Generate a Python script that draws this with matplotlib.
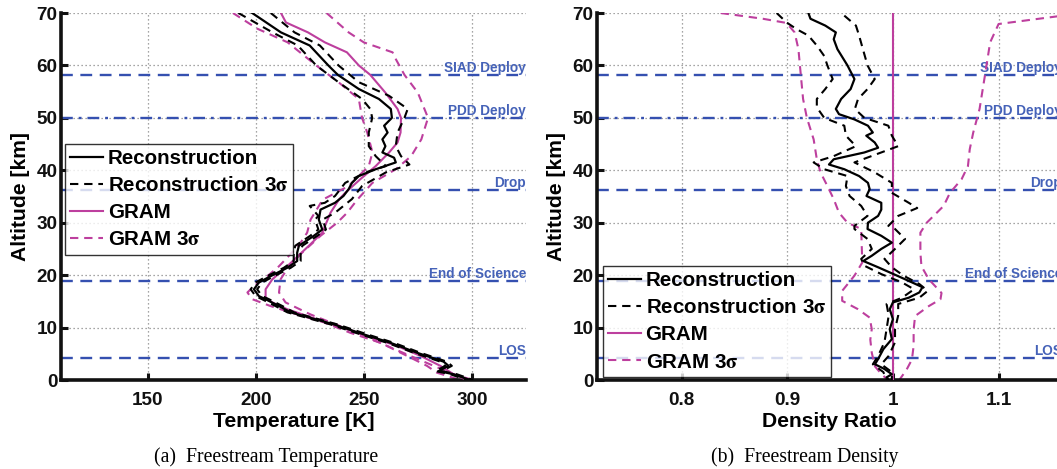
import matplotlib
matplotlib.use('Agg')
import matplotlib.pyplot as plt

plt.rcParams['font.family'] = ['Liberation Sans', 'DejaVu Sans']
plt.rcParams['font.weight'] = 'bold'
plt.rcParams['mathtext.fontset'] = 'stix'

# ---------------- Temperature panel data ----------------
rec_T_alt = [70, 66.3, 63.8, 60, 58.2, 55.5, 53.6, 51.7, 50, 48.5, 47.2, 45.9, 44.6, 43.4, 42.4, 41.5,
             40.2, 38.9, 37.6, 36.4, 35.1, 33.8, 32.5, 30.6, 28.7, 27.5, 25.6, 24.3, 22.7, 21.4, 19.8,
             18.6, 17.3, 16.0, 15.4, 14.1, 12.9, 12.2, 10.6, 8.7, 7.1, 5.2, 3.5, 2.7, 1.7, 1.1, 0.2, 0]
rec_T = [198.4, 211.7, 225.0, 233.6, 238.0, 247.7, 257.0, 262.5, 263.0, 259.4, 261.0, 258.6, 260.0, 258.6, 264.0, 264.8,
         255.5, 247.7, 244.5, 243.0, 240.6, 236.7, 230.0, 229.2, 230.8, 226.9, 220.0, 219.2, 219.2, 214.6, 206.9,
         201.5, 199.2, 201.5, 204.6, 210.8, 216.2, 222.3, 236.2, 250.0, 262.3, 274.6, 286.9, 289.2, 284.6, 291.5, 297.7, 299.0]

rec3_T_lo_alt = [70, 66.3, 63.8, 60, 56.8, 53.6, 51.7, 50, 47.2, 44.6, 42.7, 40.8, 39.6, 37.6, 35.1, 33.8, 33.2,
                 31.3, 30.6, 28.7, 27.5, 25.6, 24.3, 22.7, 21.4, 19.8, 18.6, 17.3, 16.0, 15.4, 14.1, 12.9, 12.2,
                 10.6, 8.7, 7.1, 5.2, 3.5, 2.7, 1.7, 1.1, 0.2, 0]
rec3_T_lo = [192.0, 207.8, 219.5, 228.0, 238.3, 249.2, 253.0, 253.9, 252.3, 252.3, 255.5, 260.2, 250.8, 241.4, 236.7, 232.0, 225.0,
             229.0, 227.5, 229.0, 225.2, 218.3, 217.6, 217.6, 213.0, 205.3, 200.0, 197.7, 200.0, 203.0, 209.2, 214.7, 220.8,
             234.6, 248.5, 260.8, 273.1, 285.4, 287.7, 283.1, 290.0, 296.2, 297.5]

rec3_T_hi_alt = [70, 66.3, 63.8, 60, 56.8, 54.2, 51.7, 50, 47.2, 44.6, 42.7, 41.1, 39.6, 37, 34.5, 31.9, 30.6,
                 28.7, 27.5, 25.6, 24.3, 22.7, 21.4, 19.8, 18.6, 17.3, 16.0, 15.4, 14.1, 12.9, 12.2,
                 10.6, 8.7, 7.1, 5.2, 3.5, 2.7, 1.7, 1.1, 0.2, 0]
rec3_T_hi = [207.0, 218.0, 229.7, 238.3, 247.7, 261.7, 270.3, 268.8, 265.6, 264.8, 267.2, 271.1, 260.2, 249.2, 244.5, 236.7, 231.0,
             232.5, 228.5, 221.6, 220.8, 220.8, 216.2, 208.5, 203.0, 200.7, 203.0, 206.2, 212.4, 217.8, 223.8,
             237.8, 251.6, 263.8, 276.1, 288.4, 290.7, 286.1, 293.0, 299.2, 300.5]

gram_T_alt = [70, 68.2, 66.3, 64.4, 62.5, 60, 58.2, 54.8, 51.7, 50, 47.2, 45.3, 43.4, 40.8, 38.3, 35.7, 34.4,
              31.9, 28.1, 25.6, 21.7, 19.2, 17.3, 15.7, 14.8, 13.5, 12.2, 10.3, 8.4, 6.5, 4.6, 2.7, 1.1, 0]
gram_T = [211.7, 214.0, 224.2, 232.0, 242.2, 247.7, 253.0, 260.0, 265.6, 267.2, 267.0, 265.6, 261.7, 255.5, 248.4, 241.4, 238.5,
          234.6, 230.8, 224.6, 214.6, 207.7, 204.6, 204.6, 207.7, 214.6, 223.8, 237.7, 251.5, 265.4, 276.2, 285.4, 291.5, 297.7]

gram3_T_lo_alt = [70, 67, 64.4, 60, 56.8, 53.6, 50, 47.2, 43.4, 40.8, 37, 34.4, 30.6, 28.1, 26.2, 23.7, 21.7,
                  19.8, 17.9, 16.7, 15.4, 14.1, 12.5, 11, 9, 7.1, 4.6, 2.7, 1.4, 0]
gram3_T_lo = [189.5, 200.8, 214.8, 228.0, 238.3, 247.7, 249.2, 251.6, 254.0, 252.3, 243.0, 231.0, 225.4, 223.8, 220.8, 215.4, 210.8,
              205.4, 199.2, 196.2, 198.5, 206.9, 219.2, 231.5, 243.8, 257.7, 270.0, 279.2, 283.8, 294.6]

gram3_T_hi_alt = [70, 66.3, 64.4, 62.5, 61.2, 58.2, 54.8, 50, 45.9, 42.7, 40.2, 37.6, 34.4, 31.9, 30, 27.5,
                  24.3, 21.7, 19.2, 16.7, 14.8, 12.5, 11, 9, 6.5, 4.6, 2.7, 1.1, 0]
gram3_T_hi = [232.8, 243.0, 250.0, 263.3, 264.8, 268.8, 275.0, 279.7, 276.6, 271.9, 264.8, 254.0, 247.0, 242.3, 237.7, 230.0,
              221.5, 215.4, 211.5, 210.8, 213.8, 225.4, 234.6, 247.0, 260.8, 271.5, 282.3, 291.5, 300.5]

# ---------------- Density panel data ----------------
rec_D_alt = [70, 68.9, 67.6, 66.3, 65, 63.1, 60, 57.4, 55.5, 53.6, 51.7, 50.7, 49.7, 48.5, 47.2, 46.6, 45.3, 44.3,
             43.4, 42.1, 41.1, 40.2, 38.9, 37.6, 36.4, 35.1, 33.8, 32.5, 31.3, 30, 28.8, 27.5, 26.2, 25, 23.7,
             22.7, 21.5, 20.2, 18.9, 17.7, 16.7, 15.7, 14.8, 13.5, 11.6, 9.7, 7.8, 5.9, 4, 3, 2.1, 1.1, 0.5, 0]
rec_D = [0.920, 0.922, 0.936, 0.946, 0.944, 0.9475, 0.957, 0.9636, 0.960, 0.951, 0.946, 0.949, 0.9636, 0.9764, 0.981, 0.9748, 0.9828, 0.986,
         0.973, 0.944, 0.9395, 0.954, 0.968, 0.9764, 0.978, 0.975, 0.989, 0.989, 0.986, 0.9764, 0.976, 0.989, 0.999, 0.989, 0.980,
         0.972, 0.986, 1.0006, 1.015, 1.028, 1.025, 1.015, 1.000, 0.997, 1.000, 0.997, 0.999, 0.991, 0.986, 0.983, 0.992, 0.999, 0.994, 0.996]

rec3_D_lo_alt = [70, 68.2, 66.9, 65.7, 63.8, 61.8, 60, 57.4, 55.5, 53.6, 52, 50, 48.5, 46.6, 44.6, 42.7, 41.5, 40.2,
                 38.9, 37, 35.1, 33.2, 31.3, 29.4, 28.8, 26.9, 25, 23.1, 21.8, 20.2, 18.6, 17.3, 15.7, 14.5,
                 12.3, 9.7, 7.2, 4.6, 3, 1.5, 0]
rec3_D_lo = [0.890, 0.8994, 0.909, 0.920, 0.928, 0.935, 0.938, 0.943, 0.936, 0.928, 0.928, 0.935, 0.954, 0.9555, 0.965, 0.944, 0.925, 0.935,
             0.957, 0.9555, 0.959, 0.970, 0.976, 0.9636, 0.9636, 0.976, 0.980, 0.970, 0.973, 0.989, 1.0087, 1.020, 1.0087, 0.994,
             0.996, 0.994, 0.992, 0.986, 0.981, 0.991, 0.994]

rec3_D_hi_alt = [69.5, 67.6, 65.7, 63.1, 60, 57.4, 55.5, 53.6, 51.7, 50, 48.5, 46.6, 44.6, 42.7, 41.5, 39.6,
                 37.6, 35.7, 33.8, 32.8, 31.3, 29.4, 28.8, 26.9, 25, 23.1, 21.5, 19.9, 18.3, 17, 15.7, 14.5,
                 12.3, 9.7, 7.2, 4.6, 3, 1.5, 0]
rec3_D_hi = [0.954, 0.965, 0.968, 0.9716, 0.976, 0.9828, 0.976, 0.967, 0.964, 0.973, 0.9957, 0.999, 1.005, 0.9796, 0.9636, 0.9828,
             0.999, 0.999, 1.015, 1.023, 1.005, 0.9957, 1.002, 1.0115, 1.002, 0.992, 0.999, 1.010, 1.025, 1.033, 1.025, 1.005,
             1.005, 1.002, 1.002, 0.996, 0.989, 0.999, 0.999]

gram_D_alt = [0, 70]
gram_D = [1.0, 1.0]

gram3_D_lo_alt = [70, 68.9, 68.1, 66.3, 63.1, 60, 53.6, 50, 45.9, 42.1, 39.6, 37, 34.5, 31.9, 30, 28.8, 22.4,
                  19.9, 17, 15.1, 13.5, 11.9, 9.7, 7.7, 5.2, 2.6, 1.4, 0]
gram3_D_lo = [0.837, 0.877, 0.8994, 0.907, 0.9106, 0.912, 0.915, 0.9186, 0.925, 0.928, 0.9315, 0.938, 0.944, 0.949, 0.957, 0.970, 0.971,
              0.9636, 0.952, 0.952, 0.967, 0.978, 0.980, 0.9786, 0.980, 0.983, 0.988, 0.995]

gram3_D_hi_alt = [70, 69.4, 67.9, 64.4, 58, 51.7, 47.2, 44, 40.8, 38.3, 35.7, 33.2, 30, 28.1, 24.3, 21.7,
                  19.2, 16.6, 15.4, 14.1, 12.2, 9.6, 6.5, 3.9, 2, 0.7, 0]
gram3_D_hi = [1.19, 1.157, 1.100, 1.092, 1.087, 1.082, 1.076, 1.0727, 1.071, 1.065, 1.054, 1.048, 1.032, 1.026, 1.026, 1.027,
              1.034, 1.046, 1.045, 1.034, 1.021, 1.0196, 1.0196, 1.018, 1.013, 1.0085, 1.006]

# ---------------- Events ----------------
event_names = ['SIAD Deploy', 'PDD Deploy', 'Drop', 'End of Science', 'LOS']
event_alts = [58.1, 50.0, 36.3, 18.8, 4.2]
event_dashdot = [False, True, False, False, False]

xticks_T = [150, 200, 250, 300]
xticks_D = [0.8, 0.9, 1.0, 1.1]
xticklabels_D = ['0.8', '0.9', '1', '1.1']
yticks = [0, 10, 20, 30, 40, 50, 60, 70]

legend_labels = ['Reconstruction', r'Reconstruction 3$\mathrm{\sigma}$', 'GRAM', r'GRAM 3$\mathrm{\sigma}$']

MAG = '#bd3f9e'
BLUE = '#3550b0'
BLUE_TXT = '#4562b8'

fig = plt.figure(figsize=(10.57, 4.69), dpi=100)
W, H = 1057.0, 469.0
ax1 = fig.add_axes([61 / W, 89 / H, 465 / W, 367 / H])
ax2 = fig.add_axes([597 / W, 89 / H, 465 / W, 367 / H])

FS_TICK = 13.6
FS_LAB = 15.2
FS_LEG = 14.8


def style_axes(ax, xlim, xticks, xticklabels, xlabel):
    ax.set_xlim(*xlim)
    ax.set_ylim(0, 70)
    ax.set_xticks(xticks)
    ax.set_xticklabels(xticklabels, fontsize=FS_TICK, fontweight='bold')
    ax.set_yticks(yticks)
    ax.set_yticklabels([str(v) for v in yticks], fontsize=FS_TICK, fontweight='bold')
    ax.spines['top'].set_visible(False)
    ax.spines['right'].set_visible(False)
    for s in ['left', 'bottom']:
        ax.spines[s].set_linewidth(2.6)
        ax.spines[s].set_color('#111111')
    ax.tick_params(direction='in', length=5, width=2.2, colors='#111111')
    ax.tick_params(axis='x', pad=8.5)
    ax.tick_params(axis='y', pad=2.5)
    ax.grid(True, color='#888888', linestyle=(0, (1, 2.2)), linewidth=0.9)
    ax.set_axisbelow(True)
    ax.set_xlabel(xlabel, fontsize=FS_LAB, fontweight='bold', labelpad=2)
    ax.set_ylabel('Altitude [km]', fontsize=FS_LAB, fontweight='bold', labelpad=5)


def draw_events(ax):
    for name, alt, dd in zip(event_names, event_alts, event_dashdot):
        ls = (0, (5, 2.5, 1.2, 2.5)) if dd else (0, (5, 3.2))
        ax.axhline(alt, color=BLUE, linestyle=ls, linewidth=1.7, zorder=1.5)
        ax.text(1.0, alt + 0.6, name, transform=ax.get_yaxis_transform(), ha='right', va='baseline',
                fontsize=9.8, fontweight='bold', color=BLUE_TXT, zorder=1.6)


def draw_series(ax, rec, rec_alt, r3lo, r3lo_alt, r3hi, r3hi_alt, g, g_alt, g3lo, g3lo_alt, g3hi, g3hi_alt):
    h1, = ax.plot(rec, rec_alt, color='black', lw=1.6, zorder=4)
    h2, = ax.plot(r3lo, r3lo_alt, color='black', lw=1.5, ls=(0, (4, 2.8)), zorder=3)
    ax.plot(r3hi, r3hi_alt, color='black', lw=1.5, ls=(0, (4, 2.8)), zorder=3)
    h3, = ax.plot(g, g_alt, color=MAG, lw=1.5, zorder=2.6)
    h4, = ax.plot(g3lo, g3lo_alt, color=MAG, lw=1.5, ls=(0, (4, 2.8)), zorder=2.5)
    ax.plot(g3hi, g3hi_alt, color=MAG, lw=1.5, ls=(0, (4, 2.8)), zorder=2.5)
    return [h1, h2, h3, h4]


style_axes(ax1, (110, 325), xticks_T, [str(v) for v in xticks_T], 'Temperature [K]')
draw_events(ax1)
hs = draw_series(ax1, rec_T, rec_T_alt, rec3_T_lo, rec3_T_lo_alt, rec3_T_hi, rec3_T_hi_alt,
                 gram_T, gram_T_alt, gram3_T_lo, gram3_T_lo_alt, gram3_T_hi, gram3_T_hi_alt)

style_axes(ax2, (0.72, 1.16), xticks_D, xticklabels_D, 'Density Ratio')
draw_events(ax2)
hs2 = draw_series(ax2, rec_D, rec_D_alt, rec3_D_lo, rec3_D_lo_alt, rec3_D_hi, rec3_D_hi_alt,
                  gram_D, gram_D_alt, gram3_D_lo, gram3_D_lo_alt, gram3_D_hi, gram3_D_hi_alt)


def make_legend(ax, handles, anchor):
    leg = ax.legend(handles, legend_labels, loc='upper left', bbox_to_anchor=anchor, borderaxespad=0,
                    prop={'size': FS_LEG, 'weight': 'bold'}, frameon=True, fancybox=False,
                    handlelength=1.6, handletextpad=0.22, labelspacing=0.4, borderpad=0.25)
    leg.get_frame().set_edgecolor('black')
    leg.get_frame().set_linewidth(1.0)
    leg.set_zorder(10)
    return leg


make_legend(ax1, hs, (0.009, 0.644))
make_legend(ax2, hs2, (0.013, 0.311))

fig.text(266 / W, 1 - 457 / H, '(a)  Freestream Temperature', ha='center', va='center',
         fontsize=14.2, fontweight='normal', family=['Liberation Serif', 'DejaVu Serif'])
fig.text(805 / W, 1 - 457 / H, '(b)  Freestream Density', ha='center', va='center',
         fontsize=14.2, fontweight='normal', family=['Liberation Serif', 'DejaVu Serif'])

fig.savefig('out.png', dpi=100)
